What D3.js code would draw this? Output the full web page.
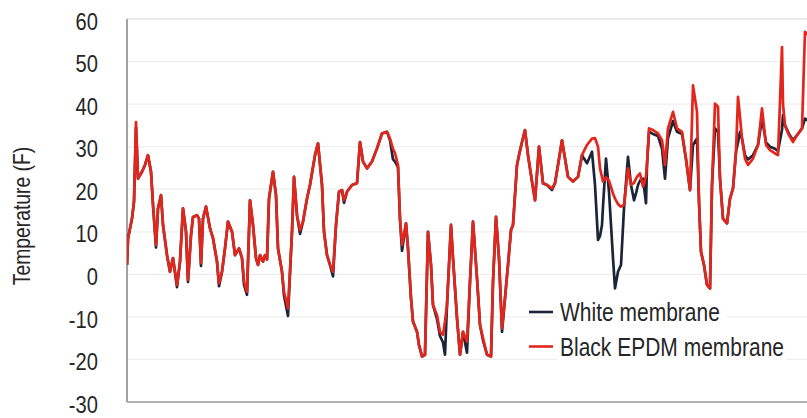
<!DOCTYPE html>
<html>
<head>
<meta charset="utf-8">
<script src="https://cdn.jsdelivr.net/npm/d3@7"></script>
<style>
  body { margin: 0; background: #fff; }
  svg { display: block; }
  text { font-family: "Liberation Sans Narrow", "Arial Narrow", "Liberation Sans", sans-serif; fill: #262626; }
</style>
</head>
<body>
<script>
// hours since start of record
var hour = [0,1,5,7,9,11,15,18,21,24,26,29,31,34,36,40,43,46,50,53,56,59,61,64,66,70,72,74,76,79,83,86,90,92,95,98,101,105,108,112,115,117,120,123,126,129,131,133,136,138,140,142,146,149,151,155,157,161,165,167,170,173,176,180,183,188,191,195,197,200,203,206,209,212,215,217,220,225,230,233,236,240,245,250,255,260,263,266,268,271,273,275,279,281,284,286,290,292,295,298,301,304,306,310,313,316,318,320,324,326,330,333,336,340,343,346,350,353,356,360,364,366,369,372,375,378,381,384,386,390,392,395,398,401,405,408,412,416,420,425,428,431,435,438,441,446,451,455,457,460,465,468,471,473,475,476,479,482,486,488,491,494,497,501,504,507,509,511,513,516,519,520,522,526,531,535,538,541,546,550,555,559,563,566,570,572,574,577,580,583,585,588,591,593,596,600,603,606,609,611,613,615,618,621,626,631,635,639,643,648,651,655,656,658,662,666,670,675,678,682];

// Black EPDM membrane (F)
var blackEPDM = [2.2,8.4,13.1,17.1,35.8,22.5,24.1,25.7,28.0,24.1,16.3,6.9,15.5,18.6,11.6,4.5,0.6,3.8,-2.5,3.0,15.5,10.0,-1.3,9.2,13.5,13.9,13.1,2.6,13.1,15.9,10.8,8.5,3.0,-2.1,0.6,6.1,12.4,10.0,4.5,6.1,3.8,-1.7,-4.1,17.4,11.6,3.8,2.2,4.5,3.0,4.5,3.5,17.8,24.1,18.6,6.1,0.6,-4.1,-8.0,10.0,22.9,13.9,10.4,12.4,17.8,21.0,28.0,30.8,21.0,10.0,4.5,2.2,0.6,11.6,19.4,19.8,17.4,19.4,21.0,21.4,31.1,26.5,24.9,26.5,29.6,33.1,33.5,31.9,29.5,28.5,25.7,13.0,6.9,12.0,6.1,-5.6,-11.1,-13.5,-16.6,-19.3,-18.9,10.0,2.2,-7.2,-9.6,-13.5,-14.2,-11.0,-7.2,11.6,3.8,-10.3,-18.9,-13.5,-15.8,-1.7,12.4,-0.9,-11.9,-15.0,-18.9,-19.3,-1.7,13.5,3.8,-12.7,-5.6,2.2,10.4,11.6,25.7,28.0,31.1,33.9,28.0,21.8,17.4,30.0,21.4,21.0,20.2,21.4,25.7,31.5,27.2,22.9,21.8,22.9,28.0,29.0,30.4,31.9,32.0,30.0,24.9,22.8,21.8,22.8,22.0,19.0,17.8,16.5,15.9,16.3,24.9,21.0,21.5,22.5,23.2,23.7,20.6,23.0,26.0,34.3,33.9,33.1,31.5,25.7,34.3,38.2,34.3,33.5,27.2,19.8,44.4,38.2,17.1,5.3,2.2,-2.5,-3.3,21.0,40.1,39.4,22.5,13.1,12.0,17.8,20.2,28.8,41.7,37.0,31.9,27.2,25.7,27.2,30.4,39.0,30.4,29.2,28.4,28.0,53.4,40.0,35.0,32.7,31.1,32.7,34.3,57.0,56.0];

// White membrane (F)
var whiteMembrane = [2.2,8.4,13.1,17.1,34.5,22.5,24.1,25.7,28.0,24.1,16.3,6.3,15.5,18.6,11.6,4.5,0.6,3.8,-3.0,3.0,15.5,10.0,-1.8,9.2,13.5,13.9,13.1,2.0,13.1,15.9,10.8,8.5,3.0,-2.8,0.6,6.1,12.4,10.0,4.5,6.1,3.8,-2.5,-4.8,17.4,11.6,3.8,2.2,4.5,3.0,4.5,3.5,17.8,24.1,18.6,6.1,0.6,-5.0,-9.8,10.0,22.9,13.9,9.5,12.4,17.8,21.0,28.0,30.8,21.0,10.0,4.5,2.2,-0.5,11.6,19.4,19.8,16.8,19.4,21.0,21.4,31.1,26.5,24.9,26.5,29.6,33.1,33.5,31.5,27.0,26.5,25.2,13.0,5.5,12.0,6.1,-5.6,-11.1,-13.5,-16.6,-19.3,-18.9,10.0,2.2,-7.2,-10.5,-14.5,-16.0,-18.9,-7.2,11.6,3.8,-10.3,-18.9,-13.5,-18.4,-1.7,12.4,-0.9,-11.9,-15.5,-18.9,-19.3,-1.7,13.5,3.8,-13.5,-5.6,2.2,10.4,11.6,25.7,28.0,31.1,33.9,28.0,21.8,17.4,30.0,21.4,21.0,19.8,21.4,25.7,31.5,27.2,22.9,21.8,22.9,28.0,27.2,26.1,28.8,21.0,8.1,9.0,11.6,16.0,27.2,19.4,3.8,-3.3,0.6,2.2,15.5,27.6,21.0,17.4,19.0,21.0,22.0,22.5,16.7,25.7,33.5,33.0,32.5,29.5,22.5,32.0,36.0,33.5,33.0,27.0,19.8,30.4,31.9,17.1,5.3,2.2,-2.5,-3.3,21.0,34.3,33.5,22.5,13.1,12.0,17.8,20.2,28.8,31.0,33.5,31.9,28.0,27.0,28.0,30.4,36.6,31.0,30.0,29.5,29.0,34.0,37.4,35.0,33.0,31.5,32.7,34.3,36.6,36.0];

var yTicks = [60, 50, 40, 30, 20, 10, 0, -10, -20, -30];
var seriesNames = ["White membrane", "Black EPDM membrane"];
var seriesColors = ["#1b2438", "#e3261c"];

var width = 807, height = 418;
var plotLeft = 127, plotTop = 19, plotBottom = 402;
var squeeze = "scale(0.84,1)"; // fakes the narrow face of the original

var svg = d3.select("body").append("svg")
    .attr("width", width)
    .attr("height", height);

var x = d3.scaleLinear().domain([0, 700]).range([plotLeft, plotLeft + 700]);
var y = d3.scaleLinear().domain([-30, 60]).range([plotBottom, plotTop]);

// faint gridlines
svg.append("g")
    .selectAll("line")
    .data(yTicks.filter(function(d){ return d > -30 && d < 60; }))
    .enter().append("line")
    .attr("x1", plotLeft).attr("x2", width)
    .attr("y1", function(d){ return y(d); })
    .attr("y2", function(d){ return y(d); })
    .attr("stroke", "#eeeeee")
    .attr("stroke-width", 1.2);

// frame
svg.append("line").attr("x1", plotLeft).attr("x2", width).attr("y1", plotTop).attr("y2", plotTop)
    .attr("stroke", "#d6d6d6").attr("stroke-width", 1.2);
svg.append("line").attr("x1", plotLeft).attr("x2", plotLeft).attr("y1", plotTop).attr("y2", plotBottom)
    .attr("stroke", "#8c8c8c").attr("stroke-width", 1.6);
svg.append("line").attr("x1", plotLeft).attr("x2", width).attr("y1", plotBottom).attr("y2", plotBottom)
    .attr("stroke", "#9a9a9a").attr("stroke-width", 1.6);

// y axis labels, plain hyphen minus
var yAxis = d3.axisLeft(y).tickValues(yTicks).tickSize(0).tickPadding(0)
    .tickFormat(function(d){ return String(d); });
var ag = svg.append("g").attr("transform", "translate(98,1.5)").call(yAxis);
ag.select(".domain").remove();
ag.selectAll("text")
    .attr("font-size", 24)
    .attr("x", 0)
    .attr("dy", "0.36em")
    .attr("transform", squeeze)
    .style("font-family", "\"Liberation Sans Narrow\", \"Arial Narrow\", \"Liberation Sans\", sans-serif")
    .style("fill", "#262626");

svg.append("text")
    .attr("transform", "translate(30,216) rotate(-90) " + squeeze)
    .attr("text-anchor", "middle")
    .attr("font-size", 23)
    .text("Temperature (F)");

// series
svg.append("clipPath").attr("id", "plot")
    .append("rect").attr("x", plotLeft).attr("y", 0).attr("width", width - plotLeft).attr("height", plotBottom);

var line = d3.line()
    .x(function(d, i){ return x(hour[i]); })
    .y(function(d){ return y(d); });

var plot = svg.append("g").attr("clip-path", "url(#plot)");
[whiteMembrane, blackEPDM].forEach(function(vals, k){
    plot.append("path")
        .datum(vals)
        .attr("d", line)
        .attr("fill", "none")
        .attr("stroke", seriesColors[k])
        .attr("stroke-width", 2.7)
        .attr("stroke-linejoin", "round");
});

// legend
var leg = svg.append("g").attr("transform", "translate(529,312)");
seriesNames.forEach(function(name, k){
    var g = leg.append("g").attr("transform", "translate(0," + (k * 34.5) + ")");
    g.append("rect").attr("x", 28).attr("y", -16).attr("width", k ? 230 : 170).attr("height", 32)
        .attr("fill", "#fff");
    g.append("line").attr("x1", 0).attr("x2", 24)
        .attr("stroke", seriesColors[k]).attr("stroke-width", 2.6);
    g.append("text")
        .attr("transform", "translate(31,0) " + squeeze)
        .attr("dy", "0.36em")
        .attr("font-size", 25)
        .text(name);
});
</script>
</body>
</html>
